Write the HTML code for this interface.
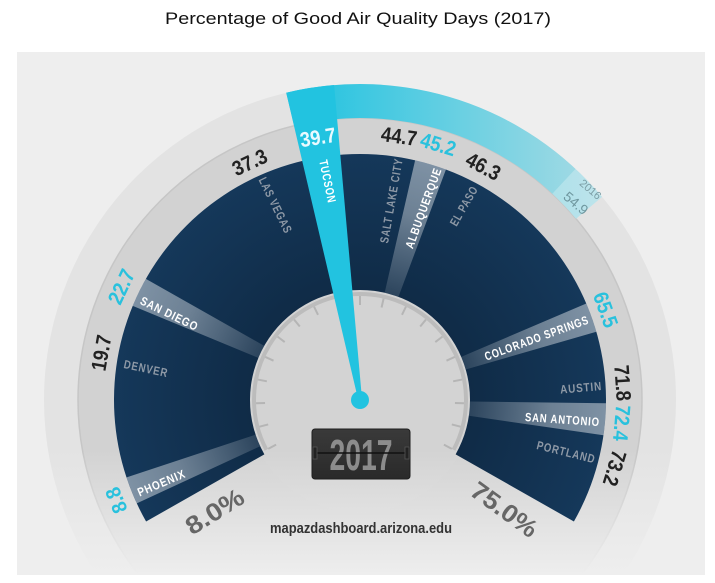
<!DOCTYPE html>
<html><head><meta charset="utf-8"><style>
html,body{margin:0;padding:0;background:#fff;width:715px;height:583px;overflow:hidden;}
svg{display:block;}
text{font-family:"Liberation Sans Narrow","Liberation Sans",sans-serif;}
</style></head><body>
<svg id="s" width="715" height="583" viewBox="0 0 715 583" xmlns="http://www.w3.org/2000/svg" overflow="hidden">
<defs>
<clipPath id="panel"><rect x="17" y="52" width="688" height="523"/></clipPath>
<linearGradient id="fade" x1="0" y1="0" x2="0" y2="1">
<stop offset="0" stop-color="#eeeeee" stop-opacity="0"/>
<stop offset="1" stop-color="#eeeeee" stop-opacity="1"/>
</linearGradient>
<radialGradient id="dk" cx="360" cy="400" r="246" gradientUnits="userSpaceOnUse">
<stop offset="0.4" stop-color="#0f2a45"/>
<stop offset="1" stop-color="#15385a"/>
</radialGradient>
<linearGradient id="arc16" x1="300" y1="0" x2="600" y2="0" gradientUnits="userSpaceOnUse">
<stop offset="0" stop-color="#22c3e0"/>
<stop offset="1" stop-color="#a8dbe4"/>
</linearGradient>
<linearGradient id="box" x1="0" y1="0" x2="0" y2="1">
<stop offset="0" stop-color="#3a3a3a"/><stop offset="1" stop-color="#2a2a2a"/>
</linearGradient>
</defs>
<rect x="0" y="0" width="715" height="583" fill="#fff"/>
<text x="358" y="24" style="font-family:'Liberation Sans',sans-serif" font-size="17" text-anchor="middle" fill="#111" textLength="386" lengthAdjust="spacingAndGlyphs">Percentage of Good Air Quality Days (2017)</text>
<rect x="17" y="52" width="688" height="523" fill="#eeeeee"/>
<g id="shapes" clip-path="url(#panel)"></g>
<g id="txt">
<g font-size="21" font-weight="bold" text-anchor="middle" dominant-baseline="central">
<text transform="translate(117,500) rotate(-112)" fill="#29c1dd" textLength="26" lengthAdjust="spacingAndGlyphs">8.8</text>
<text transform="translate(102,353) rotate(-80)" fill="#222" textLength="36" lengthAdjust="spacingAndGlyphs">19.7</text>
<text transform="translate(122,287) rotate(-65)" fill="#29c1dd" textLength="36" lengthAdjust="spacingAndGlyphs">22.7</text>
<text transform="translate(250,163) rotate(-25)" fill="#222" textLength="36" lengthAdjust="spacingAndGlyphs">37.3</text>
<text transform="translate(318,138) rotate(-9)" fill="#eafaff" textLength="36" lengthAdjust="spacingAndGlyphs">39.7</text>
<text transform="translate(399,137) rotate(8)" fill="#222" textLength="36" lengthAdjust="spacingAndGlyphs">44.7</text>
<text transform="translate(438,145) rotate(17)" fill="#29c1dd" textLength="36" lengthAdjust="spacingAndGlyphs">45.2</text>
<text transform="translate(483,167) rotate(28)" fill="#222" textLength="36" lengthAdjust="spacingAndGlyphs">46.3</text>
<text transform="translate(605,310) rotate(70)" fill="#29c1dd" textLength="36" lengthAdjust="spacingAndGlyphs">65.5</text>
<text transform="translate(622,383) rotate(86)" fill="#222" textLength="36" lengthAdjust="spacingAndGlyphs">71.8</text>
<text transform="translate(621,423) rotate(95)" fill="#29c1dd" textLength="36" lengthAdjust="spacingAndGlyphs">72.4</text>
<text transform="translate(614,468) rotate(107)" fill="#222" textLength="36" lengthAdjust="spacingAndGlyphs">73.2</text>
</g>
<g font-size="12" font-weight="bold" dominant-baseline="central" letter-spacing="1">
<text transform="translate(124,364) rotate(12)" fill="#8e99a6" textLength="45" lengthAdjust="spacingAndGlyphs">DENVER</text>
<text transform="translate(141,300) rotate(26)" fill="#fff" textLength="63" lengthAdjust="spacingAndGlyphs">SAN DIEGO</text>
<text transform="translate(262,178) rotate(64)" fill="#8e99a6" textLength="61" lengthAdjust="spacingAndGlyphs">LAS VEGAS</text>
<text transform="translate(323,160) rotate(78)" fill="#fff" textLength="44" lengthAdjust="spacingAndGlyphs">TUCSON</text>
<text transform="translate(384,243) rotate(-80)" fill="#8e99a6" textLength="86" lengthAdjust="spacingAndGlyphs">SALT LAKE CITY</text>
<text transform="translate(409,248) rotate(-70)" fill="#fff" textLength="85" lengthAdjust="spacingAndGlyphs">ALBUQUERQUE</text>
<text transform="translate(453,225) rotate(-60)" fill="#8e99a6" textLength="44" lengthAdjust="spacingAndGlyphs">EL PASO</text>
<text transform="translate(485,357) rotate(-20)" fill="#fff" textLength="110" lengthAdjust="spacingAndGlyphs">COLORADO SPRINGS</text>
<text transform="translate(602,386) rotate(-5)" fill="#8e99a6" text-anchor="end" textLength="42" lengthAdjust="spacingAndGlyphs">AUSTIN</text>
<text transform="translate(525,417) rotate(4)" fill="#fff" textLength="75" lengthAdjust="spacingAndGlyphs">SAN ANTONIO</text>
<text transform="translate(537,445) rotate(14)" fill="#8e99a6" textLength="60" lengthAdjust="spacingAndGlyphs">PORTLAND</text>
<text transform="translate(138,493) rotate(-23)" fill="#fff" textLength="51" lengthAdjust="spacingAndGlyphs">PHOENIX</text>
</g>
<text transform="translate(590,190) rotate(40)" font-size="11" fill="#7c9ea6" text-anchor="middle" dominant-baseline="central">2016</text>
<text transform="translate(576,203) rotate(40)" font-size="14" fill="#6f979f" text-anchor="middle" dominant-baseline="central">54.9</text>
<text transform="translate(215,512) rotate(-32)" font-size="25" font-weight="bold" fill="#666" text-anchor="middle" dominant-baseline="central" textLength="64" lengthAdjust="spacingAndGlyphs">8.0%</text>
<text transform="translate(504,510) rotate(36)" font-size="25" font-weight="bold" fill="#666" text-anchor="middle" dominant-baseline="central" textLength="76" lengthAdjust="spacingAndGlyphs">75.0%</text>
<text x="361" y="533" font-size="15" font-weight="bold" fill="#333" text-anchor="middle" textLength="182" lengthAdjust="spacingAndGlyphs">mapazdashboard.arizona.edu</text>
</g>
<g>
<rect x="312" y="429" width="98" height="50" rx="3" fill="url(#box)" stroke="#1f1f1f"/>
<text x="361" y="470" font-size="44" font-weight="bold" fill="#8c8c8c" text-anchor="middle" textLength="63" lengthAdjust="spacingAndGlyphs">2017</text>
<line x1="314" y1="453" x2="408" y2="453" stroke="#111" stroke-width="1.5"/>
<rect x="313" y="447" width="4" height="12" fill="#222" stroke="#555" stroke-width="0.8"/>
<rect x="405" y="447" width="4" height="12" fill="#222" stroke="#555" stroke-width="0.8"/>
</g>
</svg>
<script>
(function(){
var NS="http://www.w3.org/2000/svg",cx=360,cy=400,g=document.getElementById("shapes");
function P(r,a){a=a*Math.PI/180;return [(cx+r*Math.cos(a)).toFixed(2),(cy-r*Math.sin(a)).toFixed(2)];}
function sector(r1,r2,a1,a2){var la=(a1-a2)>180?1:0;var p1=P(r2,a1),p2=P(r2,a2),p3=P(r1,a2),p4=P(r1,a1);
return "M"+p1+" A"+r2+" "+r2+" 0 "+la+" 1 "+p2+" L"+p3+" A"+r1+" "+r1+" 0 "+la+" 0 "+p4+"Z";}
function el(t,at){var e=document.createElementNS(NS,t);for(var k in at)e.setAttribute(k,at[k]);g.appendChild(e);return e;}
el("circle",{cx:cx,cy:cy,r:316,fill:"#e3e3e3"});
el("circle",{cx:cx,cy:cy,r:282,fill:"#d2d2d2",stroke:"#c6c6c6","stroke-width":1.5});
el("path",{d:sector(282,316,103.5,40),fill:"url(#arc16)"});
el("path",{d:sector(282,316,47,40),fill:"#ffffff","fill-opacity":0.25});
el("circle",{cx:cx,cy:cy,r:113,fill:"#d3d3d3"});
el("rect",{x:17,y:450,width:688,height:125,fill:"url(#fade)"});
el("path",{d:sector(110,246,209.6,-29.6),fill:"url(#dk)"});
el("path",{d:"M"+P(106,208)+" A106 106 0 1 1 "+P(106,-28),fill:"none",stroke:"#bcbcbc","stroke-width":4});
for(var i=0;i<=18;i++){var a=208-i*236/18;el("line",{x1:P(104,a)[0],y1:P(104,a)[1],x2:P(95,a)[0],y2:P(95,a)[1],stroke:"#b5b5b5","stroke-width":2});}
var bands=[[201.6,6.5],[154,7],[73.3,7.5],[19.6,7],[-4.5,7.5]];
bands.forEach(function(b){
 var a1=b[0]+b[1]/2,a2=b[0]-b[1]/2,p=P(246,b[0]),q=P(110,b[0]);
 var id="bg"+Math.round(b[0]*10+3000);
 var lg=document.createElementNS(NS,"linearGradient");
 lg.setAttribute("id",id);lg.setAttribute("gradientUnits","userSpaceOnUse");
 lg.setAttribute("x1",q[0]);lg.setAttribute("y1",q[1]);lg.setAttribute("x2",p[0]);lg.setAttribute("y2",p[1]);
 lg.innerHTML='<stop offset="0" stop-color="#ffffff" stop-opacity="0.12"/><stop offset="0.6" stop-color="#ffffff" stop-opacity="0.38"/><stop offset="1" stop-color="#ffffff" stop-opacity="0.45"/>';
 document.querySelector("defs").appendChild(lg);
 el("path",{d:sector(110,246,a1,a2),fill:"url(#"+id+")"});
});
var t1=P(316,103.5),t2=P(316,94.7);
el("path",{d:"M358,399 L"+t1+" A316 316 0 0 1 "+t2+" L362,399Z",fill:"#22c3e0"});
el("circle",{cx:cx,cy:cy,r:9,fill:"#22c3e0"});
})();
</script>
</body></html>
